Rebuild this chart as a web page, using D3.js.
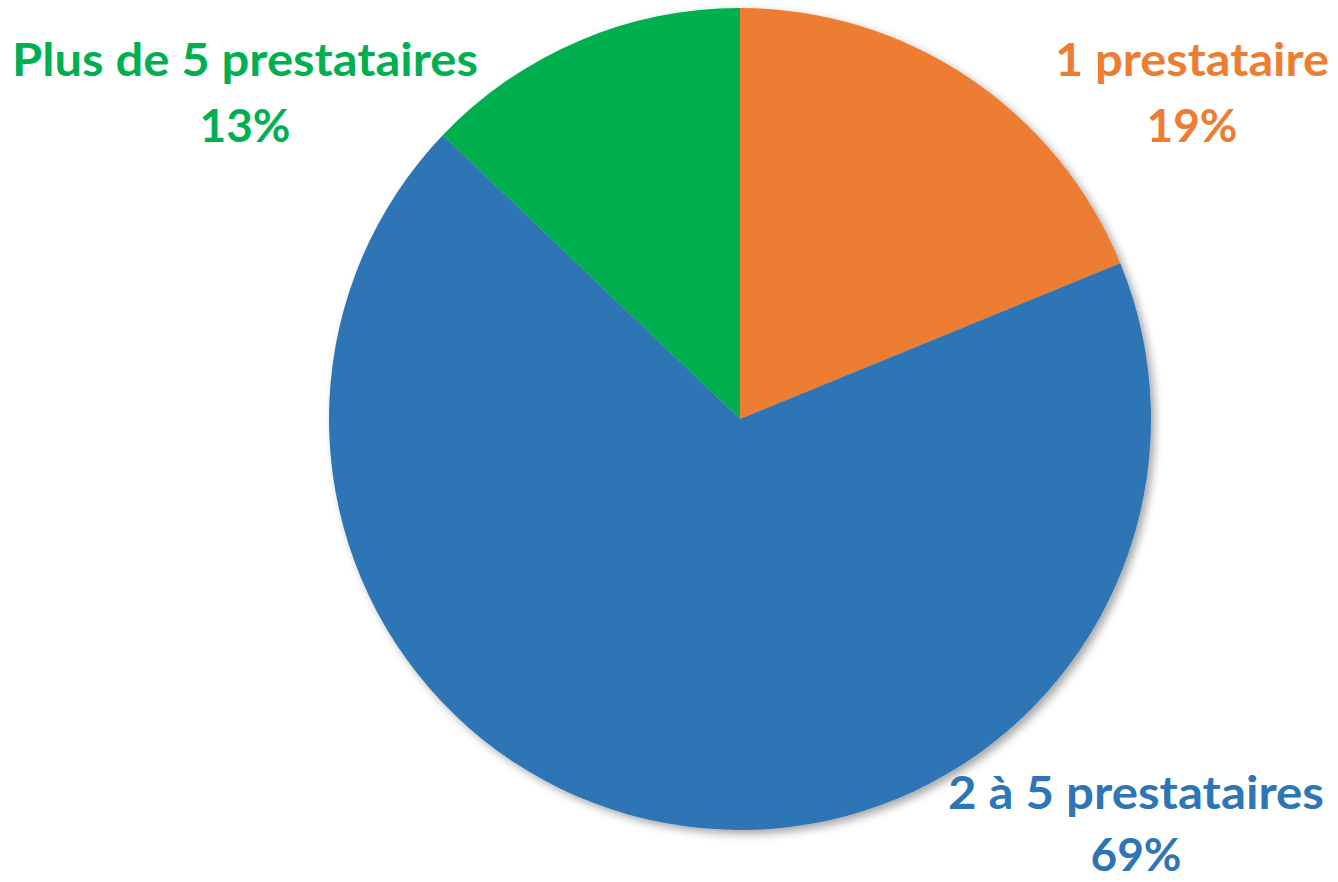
<!DOCTYPE html>
<meta charset="utf-8">
<style>
 body { margin: 0; background: #fff; }
 .lbl text {
     font-family: Lato, "Open Sans", sans-serif;
     font-weight: 700;
 }
</style>
<svg class="chart"></svg>
<script src="https://cdn.jsdelivr.net/npm/d3@7"></script>
<script>
 // chart data
 var categories = ["1 prestataire", "2 à 5 prestataires", "Plus de 5 prestataires"];
 var shares = [19, 69, 13];
 var pctLabels = ["19%", "69%", "13%"];
 var colours = ["#ED7D31", "#2E75B6", "#00B050"];

 var width = 1338, height = 882;
 var cx = 740, cy = 419, radius = 411;

 // label blocks: centre x, baseline of first line, gap to second line, width of line 1
 var labelPos = [
     {x: 1192, y: 76, gap: 66, w: 274},
     {x: 1136, y: 809, gap: 62, w: 376},
     {x: 245, y: 76, gap: 66, w: 466}
 ];

 var svg = d3.select(".chart").attr("width", width).attr("height", height);

 var defs = svg.append("defs");
 var f = defs.append("filter").attr("id", "shadow")
     .attr("x", "-10%").attr("y", "-10%").attr("width", "120%").attr("height", "120%");
 f.append("feDropShadow").attr("dx", 4).attr("dy", 4).attr("stdDeviation", 4)
     .attr("flood-color", "#000").attr("flood-opacity", 0.35);

 var pie = d3.pie().sort(null).value(function(d) { return d; });
 var arc = d3.arc().innerRadius(0).outerRadius(radius);

 var g = svg.append("g").attr("transform", "translate(" + cx + "," + cy + ")");

 g.append("g").attr("filter", "url(#shadow)")
     .selectAll("path").data(pie(shares)).enter()
     .append("path")
     .attr("d", arc)
     .attr("fill", function(d, i) { return colours[i]; });

 var lbl = svg.selectAll(".lbl").data(categories).enter()
     .append("g").attr("class", "lbl")
     .attr("fill", function(d, i) { return colours[i]; });

 lbl.append("text")
     .attr("x", function(d, i) { return labelPos[i].x; })
     .attr("y", function(d, i) { return labelPos[i].y; })
     .attr("text-anchor", "middle")
     .attr("font-size", 46)
     .attr("textLength", function(d, i) { return labelPos[i].w; })
     .attr("lengthAdjust", "spacingAndGlyphs")
     .text(function(d) { return d; });

 lbl.append("text")
     .attr("x", function(d, i) { return labelPos[i].x; })
     .attr("y", function(d, i) { return labelPos[i].y + labelPos[i].gap; })
     .attr("text-anchor", "middle")
     .attr("font-size", 46)
     .text(function(d, i) { return pctLabels[i]; });
</script>
